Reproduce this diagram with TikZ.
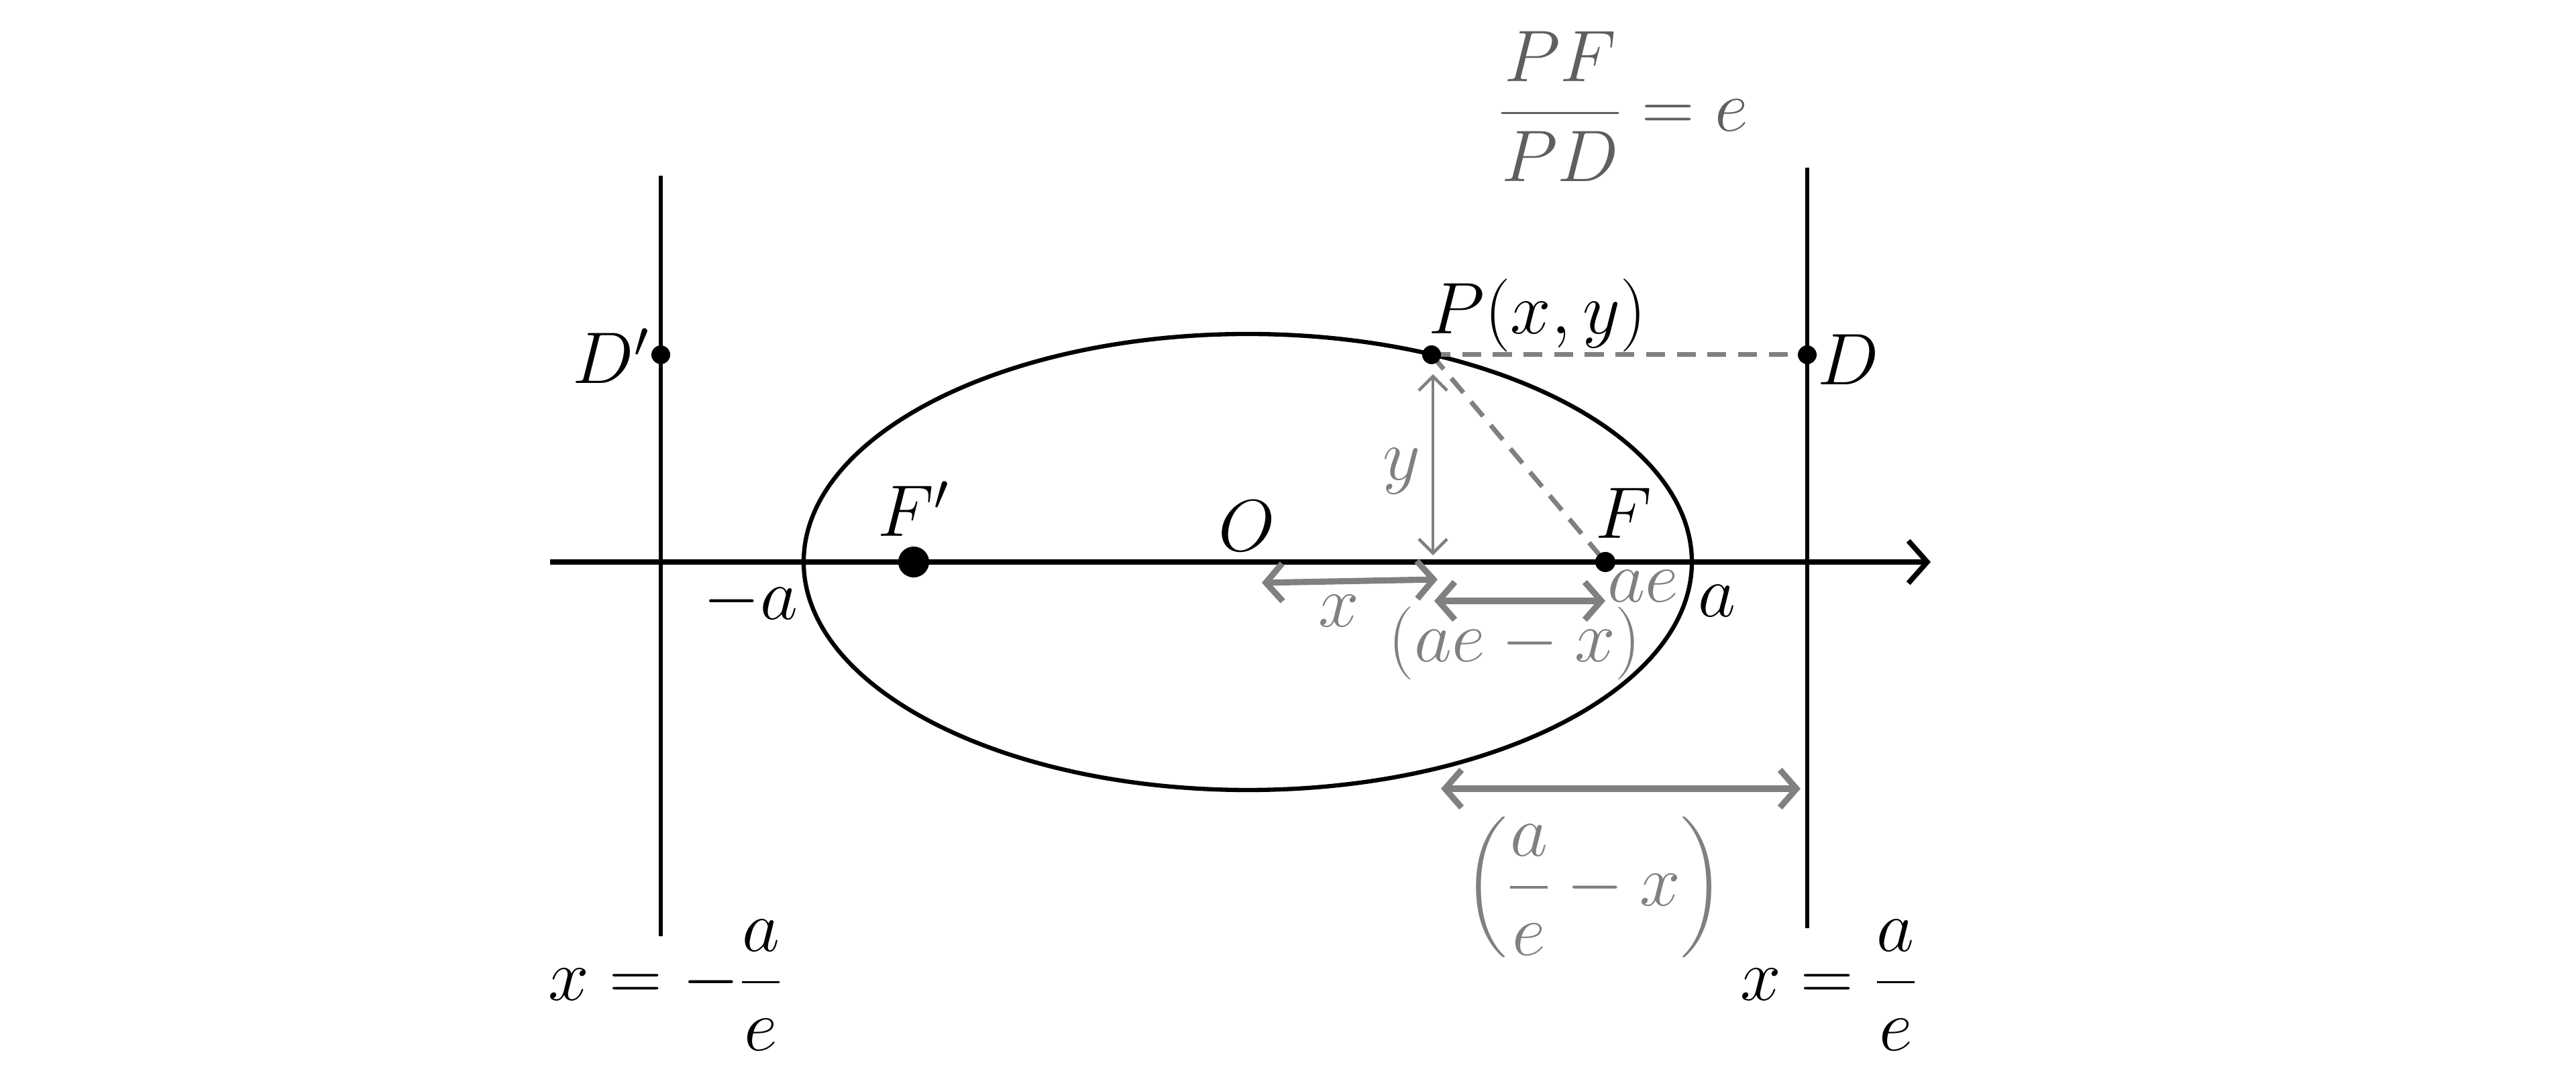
\RequirePackage{fix-cm}
\documentclass[tikz,border=0pt]{standalone}
\usepackage{amsmath}
\usetikzlibrary{arrows.meta, positioning}
\definecolor{arrowgray}{RGB}{128,128,128}
\definecolor{fracgray}{RGB}{95,95,95}

\tikzset{
  curve/.style={line width=1.8pt, black},
  measure/.style={line width=2.6pt, arrowgray, {Straight Barb[length=7pt,width=16pt]}-{Straight Barb[length=7pt,width=16pt]}},
  thinmeasure/.style={line width=1.3pt, arrowgray, {Straight Barb[length=6pt,width=12pt]}-{Straight Barb[length=6pt,width=12pt]}},
  guide/.style={line width=2pt, arrowgray, dash pattern=on 8pt off 5pt},
  graylabel/.style={text=arrowgray, inner sep=0pt},
}

\begin{document}
\begin{tikzpicture}[font=\fontsize{31}{37}\selectfont]
\useasboundingbox (0,0) rectangle (38.4,15.91);

% Ellipse data
\def\cx{18.60}
\def\cy{7.53}
\def\ra{6.62}
\def\rb{3.40}

% Points
\coordinate (O) at (\cx,\cy);
\coordinate (Fp) at (13.62,\cy);
\coordinate (F) at (23.93,\cy);
\coordinate (P) at (21.34,10.62);
\coordinate (D) at (26.94,10.62);
\coordinate (Dp) at (9.85,10.62);
\coordinate (axisL) at (8.20,\cy);
\coordinate (axisR) at (28.78,\cy);

% Directrices
\draw[curve] (9.85,13.29) coordinate (dirLtop) -- (9.85,1.95) coordinate (dirLbot);
\draw[curve] (26.94,13.41) coordinate (dirRtop) -- (26.94,2.07) coordinate (dirRbot);

% Axis
\draw[line width=2.2pt, -{Straight Barb[length=8pt,width=18pt]}] (axisL) -- (axisR);

% Ellipse
\draw[curve] (O) ellipse ({\ra} and {\rb});

% Dashed distances
\draw[guide] (P) -- (D);
\draw[guide] (P) -- (F);

% Measures
\coordinate (xL) at (18.81,7.22);
\coordinate (xR) at (21.43,7.27);
\coordinate (aexL) at (21.38,6.95);
\coordinate (aexR) at (23.93,6.95);
\coordinate (yT) at (21.36,10.33);
\coordinate (yB) at (21.36,7.63);
\coordinate (dL) at (21.48,4.15);
\coordinate (dR) at (26.84,4.15);
\draw[measure] (xL) -- (xR);
\draw[measure] (aexL) -- (aexR);
\draw[thinmeasure] (yT) -- (yB);
\draw[measure] (dL) -- (dR);

% Dots
\fill (Fp) circle (0.23);
\fill (F) circle (0.15);
\fill (P) circle (0.14);
\fill (D) circle (0.14);
\fill (Dp) circle (0.14);

% Labels
\node (Olabel) at (18.59,8.07) {$O$};
\node (Fplabel) at (13.62,8.32) {$F'$};
\node (Flabel) at (24.20,8.26) {$F$};
\node (Plabel) at (22.92,11.21) {$P(x,y)$};
\node (Dlabel) at (27.55,10.55) {$D$};
\node (Dplabel) at (9.11,10.60) {$D'$};
\node (malabel) at (11.19,6.95) {$-a$};
\node (alabel) at (25.59,6.95) {$a$};
\node[graylabel] (aelabel) at (24.49,7.17) {$ae$};
\node[graylabel] (xlabel) at (19.96,6.80) {$x$};
\node[graylabel] (aexlabel) at (22.58,6.32) {$(ae-x)$};
\node[graylabel] (ylabel) at (20.89,8.88) {$y$};
\node[graylabel] (dlabel) at (23.76,2.68) {$\left(\dfrac{a}{e}-x\right)$};
\node (dirLlabel) at (9.92,1.22) {$x=-\dfrac{a}{e}$};
\node (dirRlabel) at (27.26,1.22) {$x=\dfrac{a}{e}$};
\node[text=fracgray] (ratio) at (24.20,14.32) {$\dfrac{PF}{PD}=e$};

\end{tikzpicture}
\end{document}
